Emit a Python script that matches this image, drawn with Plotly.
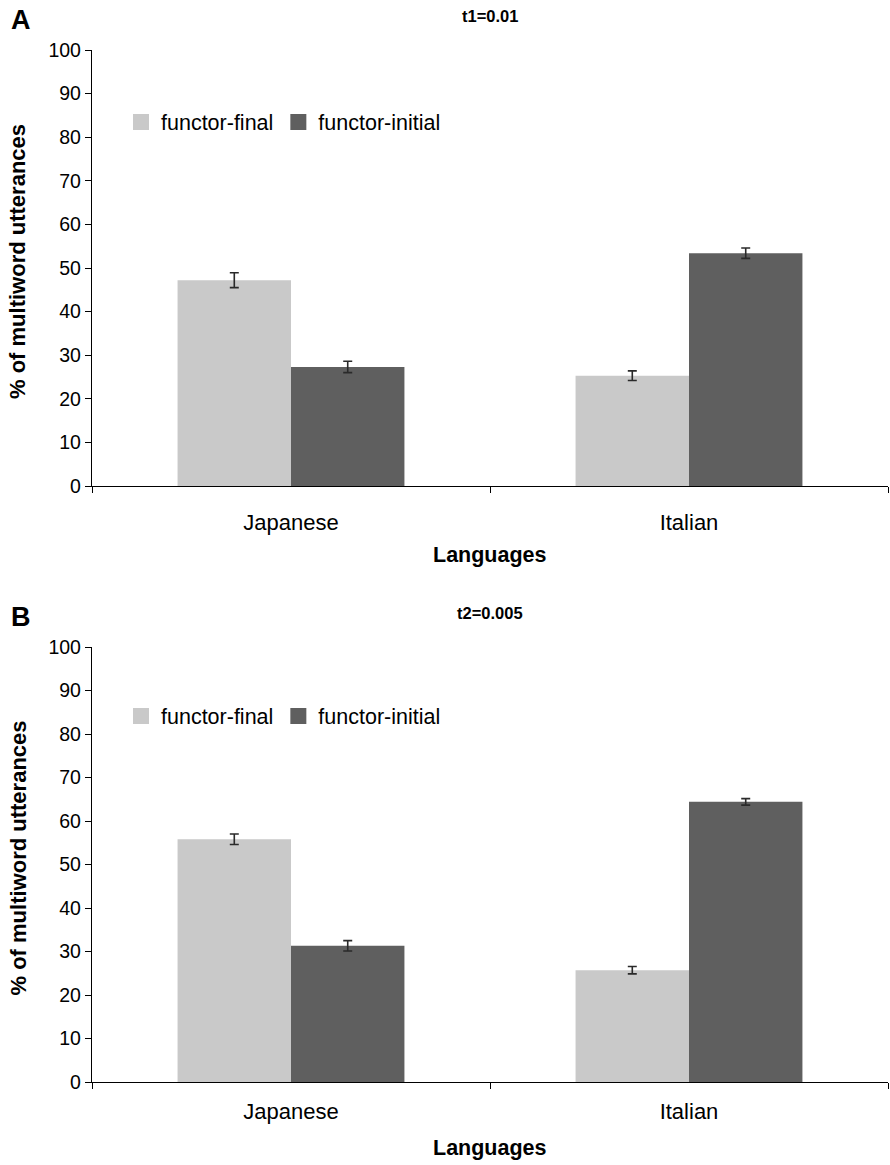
import plotly.graph_objects as go

# Data: % of multiword utterances by language and functor position
languages = ["Japanese", "Italian"]
series_names = ["functor-final", "functor-initial"]

t1_final = [47.2, 25.3]
t1_final_err = [1.7, 1.1]
t1_initial = [27.3, 53.4]
t1_initial_err = [1.3, 1.2]

t2_final = [55.8, 25.7]
t2_final_err = [1.2, 0.85]
t2_initial = [31.3, 64.4]
t2_initial_err = [1.2, 0.75]

panel_letters = ["A", "B"]
panel_titles = ["t1=0.01", "t2=0.005"]
y_title = "% of multiword utterances"
x_title = "Languages"

LIGHT = "#c9c9c9"
DARK = "#5f5f5f"
FONT = "Liberation Sans, Arial, sans-serif"
W, H = 890, 1165


def px_x(p):
    return p / W


def px_y(p):
    return 1 - p / H


fig = go.Figure()

panels = [
    (t1_final, t1_final_err, t1_initial, t1_initial_err, "x", "y", "legend"),
    (t2_final, t2_final_err, t2_initial, t2_initial_err, "x2", "y2", "legend2"),
]

for fin, fin_err, ini, ini_err, xa, ya, lg in panels:
    for vals, errs, color, name in [(fin, fin_err, LIGHT, series_names[0]),
                                    (ini, ini_err, DARK, series_names[1])]:
        fig.add_trace(go.Bar(
            x=languages, y=vals, name=name, marker=dict(color=color, line=dict(width=0)),
            error_y=dict(type="data", array=errs, visible=True, color="#2a2a2a",
                         thickness=1.6, width=4.5),
            xaxis=xa, yaxis=ya, showlegend=False,
        ))
        # legend entry with a larger square swatch
        fig.add_trace(go.Scatter(
            x=[None], y=[None], mode="markers", name=name,
            marker=dict(symbol="square", size=16, color=color),
            xaxis=xa, yaxis=ya, legend=lg, showlegend=True,
        ))

# plot areas in pixel terms
top_area = (50, 486)
bot_area = (647, 1082)
x_dom = [px_x(92), px_x(888)]

axis_common = dict(
    showline=True, linecolor="black", linewidth=1.3,
    ticks="outside", ticklen=6, tickwidth=1.3, tickcolor="black",
    showgrid=False, zeroline=False, automargin=False,
)

xaxis_common = dict(
    axis_common, type="category", categoryorder="array", categoryarray=languages,
    tickson="boundaries", tickfont=dict(family=FONT, size=22, color="black"),
)
yaxis_common = dict(
    axis_common, range=[0, 100], dtick=10, tick0=0,
    tickfont=dict(family=FONT, size=19.5, color="black"),
)

legend_common = dict(
    orientation="h", xanchor="left", yanchor="middle",
    font=dict(family=FONT, size=21.5, color="black"), bgcolor="rgba(0,0,0,0)",
    itemwidth=30, tracegroupgap=0,
)

fig.update_layout(
    width=W, height=H,
    margin=dict(l=0, r=0, t=0, b=0, autoexpand=False),
    paper_bgcolor="white", plot_bgcolor="white",
    barmode="group", bargap=0.43, bargroupgap=0,
    font=dict(family=FONT, color="black"),
    xaxis=dict(xaxis_common, domain=x_dom, anchor="y", ticklabelstandoff=16),
    yaxis=dict(yaxis_common, domain=[px_y(top_area[1]), px_y(top_area[0])], anchor="x"),
    xaxis2=dict(xaxis_common, domain=x_dom, anchor="y2", ticklabelstandoff=9),
    yaxis2=dict(yaxis_common, domain=[px_y(bot_area[1]), px_y(bot_area[0])], anchor="x2"),
    legend=dict(legend_common, x=px_x(121), y=px_y(122)),
    legend2=dict(legend_common, x=px_x(121), y=px_y(716)),
)

annotations = []
for area, letter, title, lang_gap in zip([top_area, bot_area], panel_letters, panel_titles, [69, 66]):
    top, bottom = area
    annotations.append(dict(text=letter, x=px_x(9), y=px_y(top - 30), xref="paper", yref="paper",
                            xanchor="left", yanchor="middle", showarrow=False,
                            font=dict(family=FONT, size=27, color="black", weight="bold")))
    annotations.append(dict(text=title, x=px_x(490), y=px_y(top - 34), xref="paper", yref="paper",
                            xanchor="center", yanchor="middle", showarrow=False,
                            font=dict(family=FONT, size=16.5, color="black", weight="bold")))
    annotations.append(dict(text=y_title, x=px_x(18), y=px_y((top + bottom) / 2 - 6),
                            xref="paper", yref="paper", textangle=-90,
                            xanchor="center", yanchor="middle", showarrow=False,
                            font=dict(family=FONT, size=22, color="black", weight="bold")))
    annotations.append(dict(text=x_title, x=px_x(490), y=px_y(bottom + lang_gap), xref="paper",
                            yref="paper", xanchor="center", yanchor="middle", showarrow=False,
                            font=dict(family=FONT, size=21.5, color="black", weight="bold")))
fig.update_layout(annotations=annotations)

fig.write_html("out.html")
